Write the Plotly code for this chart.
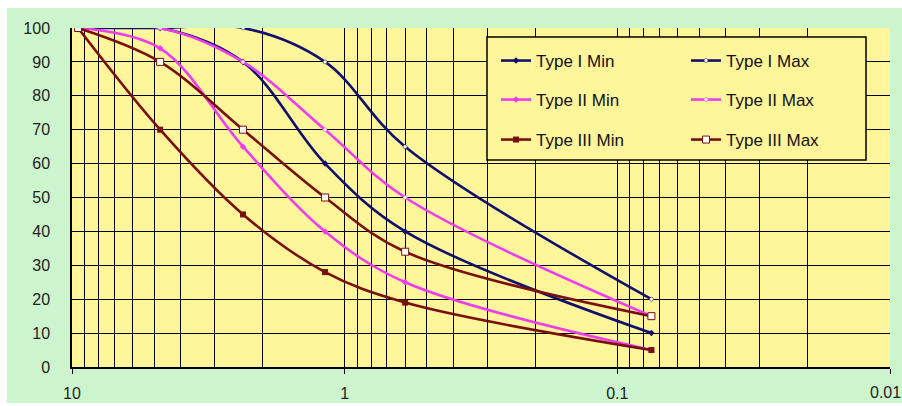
import plotly.graph_objects as go

# Sieve sizes (mm)
sieve = [9.5, 4.75, 2.36, 1.18, 0.6, 0.075]

type1_min = [100, 100, 90, 60, 40, 10]
type1_max = [100, 100, 100, 90, 65, 20]
type2_min = [100, 94, 65, 40, 25, 5]
type2_max = [100, 100, 90, 70, 50, 15]
type3_min = [100, 70, 45, 28, 19, 5]
type3_max = [100, 90, 70, 50, 34, 15]

names = ["Type I Min", "Type I Max", "Type II Min", "Type II Max", "Type III Min", "Type III Max"]
series = [type1_min, type1_max, type2_min, type2_max, type3_min, type3_max]

x_ticks = [10, 1, 0.1, 0.01]
x_ticktext = ["10", "1", "0.1", "0.01"]
y_ticks = list(range(0, 101, 10))

NAVY = "#10106e"
MAG = "#f03cf0"
MAROON = "#7a0f0f"
colors = [NAVY, NAVY, MAG, MAG, MAROON, MAROON]
markers = [
    dict(symbol="diamond", size=5, color=NAVY),
    dict(symbol="circle", size=4, color="#f4f4f4", line=dict(color=NAVY, width=0.5)),
    dict(symbol="diamond", size=5, color=MAG),
    dict(symbol="circle", size=4, color="#f4f4f4", line=dict(color=MAG, width=0.5)),
    dict(symbol="square", size=6, color=MAROON),
    dict(symbol="square", size=7, color="white", line=dict(color=MAROON, width=1)),
]
legend_ids = ["legend", "legend", "legend2", "legend2", "legend3", "legend3"]

fig = go.Figure()
for name, vals, c, m, lg in zip(names, series, colors, markers, legend_ids):
    fig.add_trace(go.Scatter(
        x=sieve, y=vals, name=name, mode="lines+markers",
        line=dict(color=c, width=2.6, shape="spline", smoothing=1),
        marker=m, legend=lg,
    ))

W, H = 902, 406
ML, MR, MT, MB = 72, 12, 28, 39
PW, PH = W - ML - MR, H - MT - MB

def px_x(p):
    return (p - ML) / PW

def px_y(p):
    return (H - MB - p) / PH

minor_vals = [d * k for d in [1, 0.1, 0.01] for k in range(2, 10)]

font = "Liberation Sans, Arial, sans-serif"
tick_font = dict(family=font, size=16, color="#222")

legend_common = dict(
    orientation="h", xanchor="left", yanchor="middle",
    bgcolor="rgba(0,0,0,0)", borderwidth=0,
    font=dict(family=font, size=17, color="#111"),
    entrywidth=145, entrywidthmode="pixels", itemwidth=30,
)

# the last tick label sits at the right edge; draw it as text nudged inward
edge_label = x_ticktext[-1]
shown_ticktext = x_ticktext[:-1] + [""]

fig.update_layout(
    width=W, height=H, autosize=False,
    margin=dict(l=ML, r=MR, t=MT, b=MB, pad=0, autoexpand=False),
    paper_bgcolor="#cdf5cd",
    plot_bgcolor="#fff59a",
    showlegend=True,
    legend=dict(x=px_x(496), y=px_y(61), **legend_common),
    legend2=dict(x=px_x(496), y=px_y(100), **legend_common),
    legend3=dict(x=px_x(496), y=px_y(140), **legend_common),
    xaxis=dict(
        type="log", range=[1, -2], automargin=False,
        tickmode="array", tickvals=x_ticks, ticktext=shown_ticktext,
        showgrid=True, gridcolor="black", gridwidth=1,
        minor=dict(tickmode="array", tickvals=minor_vals, showgrid=True,
                   gridcolor="black", gridwidth=1, ticks=""),
        showline=True, linecolor="black", linewidth=1.5,
        ticks="outside", ticklen=5, tickcolor="black",
        ticklabelstandoff=6,
        tickfont=tick_font,
        zeroline=False,
    ),
    yaxis=dict(
        range=[0, 100], tickmode="array", tickvals=y_ticks, automargin=False,
        showgrid=True, gridcolor="black", gridwidth=1,
        showline=True, linecolor="black", linewidth=1.5,
        ticks="", ticklabelstandoff=17,
        tickfont=tick_font,
        zeroline=False,
    ),
    annotations=[
        dict(text=edge_label, xref="paper", yref="paper",
             x=1, y=px_y(392), xanchor="center", yanchor="middle",
             xshift=-5, showarrow=False, font=tick_font),
    ],
    shapes=[
        # white page margins around the green chart area
        dict(type="rect", xref="paper", yref="paper", layer="below",
             x0=px_x(0), x1=px_x(W), y0=px_y(8), y1=px_y(0),
             fillcolor="white", line=dict(width=0)),
        dict(type="rect", xref="paper", yref="paper", layer="below",
             x0=px_x(0), x1=px_x(7), y0=px_y(H), y1=px_y(0),
             fillcolor="white", line=dict(width=0)),
        dict(type="rect", xref="paper", yref="paper", layer="below",
             x0=px_x(0), x1=px_x(W), y0=px_y(H), y1=px_y(403),
             fillcolor="white", line=dict(width=0)),
        # legend box
        dict(type="rect", xref="paper", yref="paper", layer="above",
             x0=px_x(487), x1=px_x(866), y0=px_y(160), y1=px_y(37),
             fillcolor="#fff59a", line=dict(color="black", width=1.5)),
    ],
)

fig.write_html("out.html", config={"displayModeBar": False},
               post_script="document.body.style.margin='0';")
